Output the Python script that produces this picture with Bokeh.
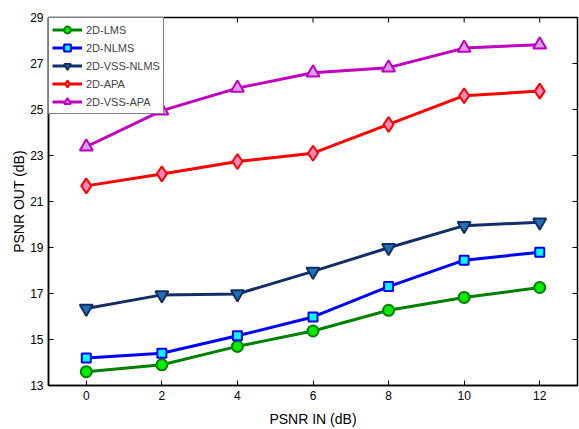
import math
from bokeh.plotting import figure
from bokeh.models import Range1d, FixedTicker, Legend
from bokeh.embed import file_html
from bokeh.resources import INLINE

psnr_in = [0, 2, 4, 6, 8, 10, 12]
lms = [13.6, 13.9, 14.7, 15.37, 16.27, 16.83, 17.26]
nlms = [14.2, 14.4, 15.16, 15.98, 17.3, 18.45, 18.79]
vss_nlms = [16.35, 16.94, 16.98, 17.96, 18.99, 19.95, 20.1]
apa = [21.68, 22.2, 22.74, 23.1, 24.35, 25.6, 25.8]
vss_apa = [23.38, 24.95, 25.93, 26.6, 26.82, 27.67, 27.82]

x_ticks = [0, 2, 4, 6, 8, 10, 12]
y_ticks = [13, 15, 17, 19, 21, 23, 25, 27, 29]
x_min, x_max = -1, 13
y_min, y_max = 13, 29

FONT = "Liberation Sans"

p = figure(width=579, height=429, output_backend="svg", toolbar_location=None,
           x_range=Range1d(x_min, x_max), y_range=Range1d(y_min, y_max),
           min_border_left=48, min_border_right=2, min_border_top=17, min_border_bottom=44)
p.xgrid.visible = False
p.ygrid.visible = False
p.outline_line_color = "black"
p.outline_line_width = 1.5

for ax, ticks in ((p.xaxis[0], x_ticks), (p.yaxis[0], y_ticks)):
    ax.ticker = FixedTicker(ticks=ticks)
    ax.major_tick_in = 5
    ax.major_tick_out = 0
    ax.minor_tick_in = 0
    ax.minor_tick_out = 0
    ax.axis_line_color = "black"
    ax.axis_line_width = 1.5
    ax.major_tick_line_color = "black"
    ax.major_tick_line_width = 1
    ax.major_label_text_font = FONT
    ax.major_label_text_color = "black"
    ax.major_label_text_font_size = "12px"
    ax.major_label_standoff = 5
    ax.axis_label_text_font = FONT
    ax.axis_label_text_font_size = "14px"
    ax.axis_label_text_font_style = "normal"
    ax.axis_label_text_color = "black"

p.xaxis[0].axis_label = "PSNR IN (dB)"
p.yaxis[0].axis_label = "PSNR OUT (dB)"
p.xaxis[0].axis_label_standoff = 8
p.yaxis[0].axis_label_standoff = 0

# inward tick marks on the top and right edges of the box
p.ray(x=x_ticks, y=[y_max] * len(x_ticks), length=5, length_units="screen",
      angle=-math.pi / 2, line_color="black", line_width=1)
p.ray(x=[x_max] * len(y_ticks), y=y_ticks, length=5, length_units="screen",
      angle=math.pi, line_color="black", line_width=1)

series = [
    ("2D-LMS", lms, "#008000", "circle", "#00ee00", 11),
    ("2D-NLMS", nlms, "#0000ff", "square", "#00ffff", 9),
    ("2D-VSS-NLMS", vss_nlms, "#132e66", "inverted_triangle", "#1f73b4", 13),
    ("2D-APA", apa, "#ff0000", "diamond", "#ff88bb", 15),
    ("2D-VSS-APA", vss_apa, "#c000c0", "triangle", "#d8a0e8", 13),
]

items = []
for name, ys, col, mk, fill, sz in series:
    r1 = p.line(psnr_in, ys, line_color=col, line_width=3)
    r2 = p.scatter(psnr_in, ys, marker=mk, size=sz, fill_color=fill,
                   line_color=col, line_width=2)
    items.append((name, [r1, r2]))

legend = Legend(items=items, location="top_left")
legend.margin = 0
legend.padding = 3
legend.spacing = 1
legend.glyph_width = 30
legend.glyph_height = 17
legend.label_standoff = 4
legend.label_text_font = FONT
legend.label_text_font_size = "11px"
legend.border_line_color = "black"
legend.border_line_width = 1.5
legend.background_fill_alpha = 1
p.add_layout(legend)

open("out.html", "w").write(file_html(p, INLINE))
